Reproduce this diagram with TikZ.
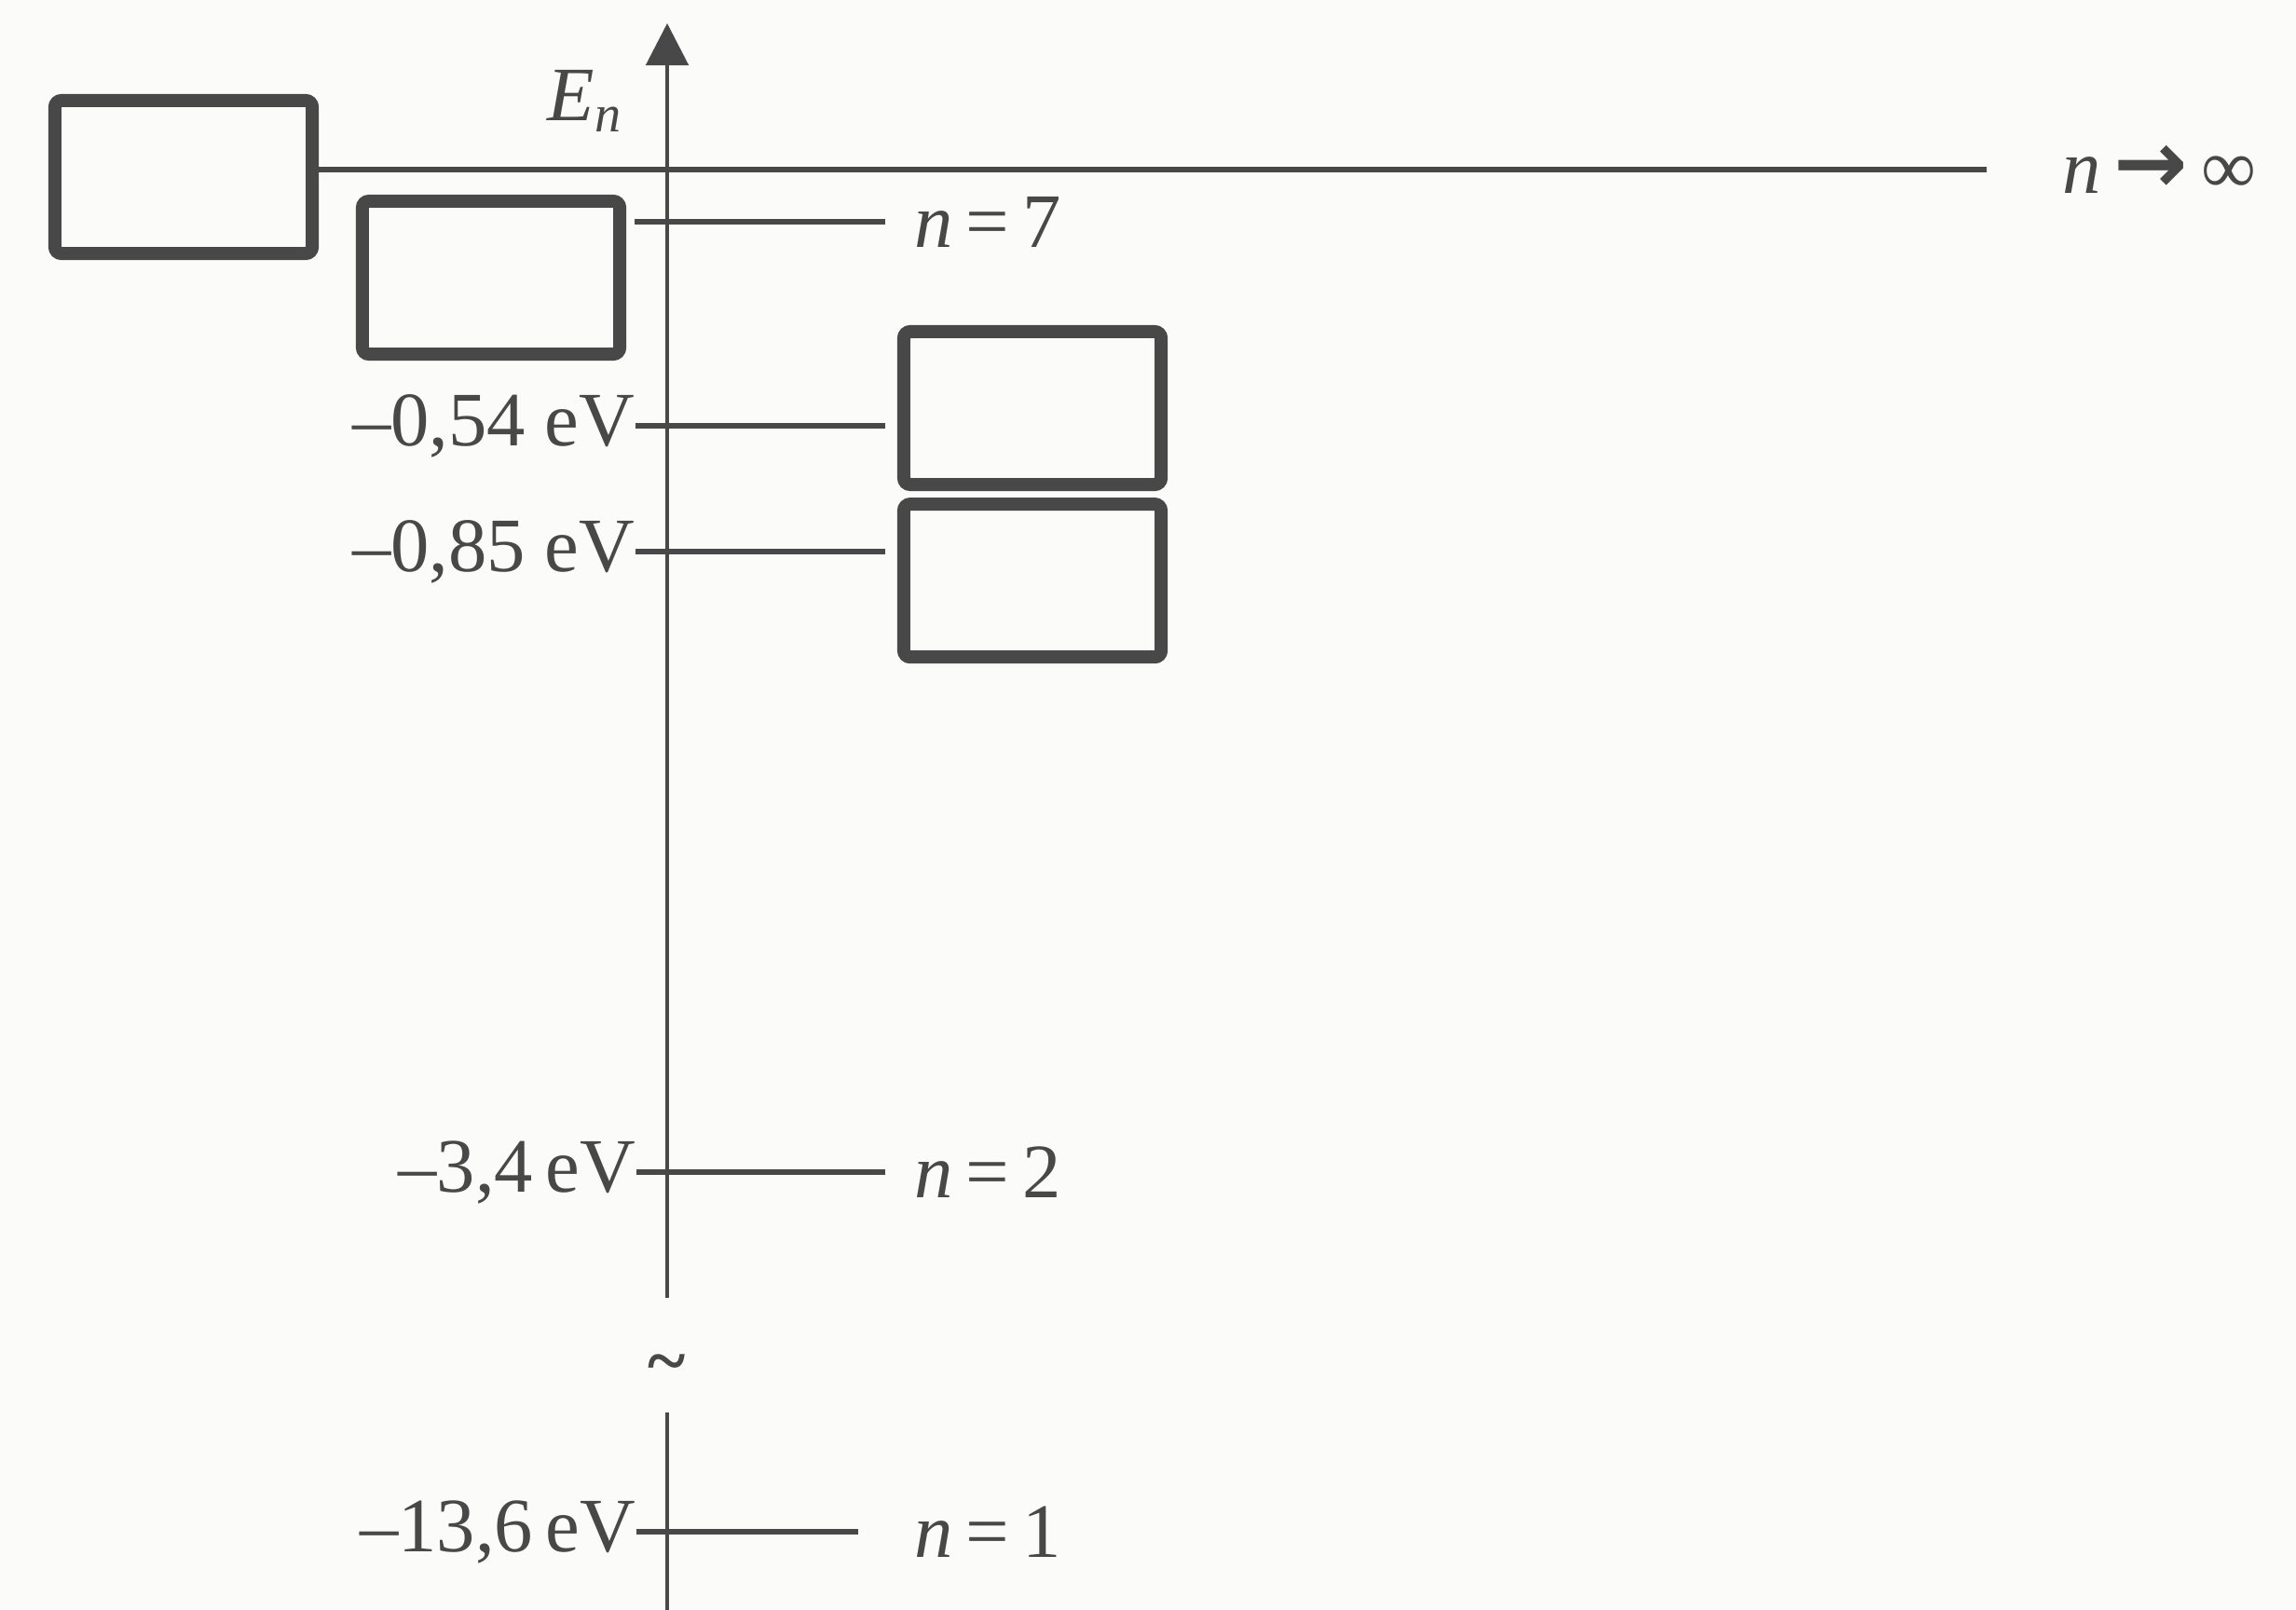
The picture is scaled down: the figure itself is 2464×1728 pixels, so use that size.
\documentclass[tikz,border=0pt]{standalone}
\usepackage{fontspec}
\setmainfont{Liberation Serif}
\newfontfamily\arrowfont{DejaVu Sans}
\usetikzlibrary{arrows.meta,positioning}
\definecolor{ink}{HTML}{484848}
\definecolor{paper}{HTML}{FBFBF9}

\begin{document}
\begin{tikzpicture}[x=0.01cm, y=-0.01cm, color=ink,
	font=\fontsize{23.5}{28}\selectfont,
	slot/.style={draw=ink, line width=4pt, rounded corners=2pt,
		minimum width=2.76cm, minimum height=1.64cm, inner sep=0pt},
	level/.style={line width=1.6pt},
	axis/.style={line width=1.4pt},
	lbl/.style={inner sep=0pt, text=ink}]
	\fill[paper] (0,0) rectangle (2464,1728);
	\useasboundingbox (0,0) rectangle (2464,1728);

	\node[slot] (b1) at (197,190) {};
	\node[slot] (b2) at (527,298) {};
	\node[slot] (b3) at (1108,438) {};
	\node[slot, below=0.07cm of b3] (b4) {};

	\coordinate (ax0) at (716,1728);
	\coordinate (axb) at (716,1516);
	\coordinate (axt) at (716,1393);
	\coordinate (top) at (716,25);
	\draw[axis] (ax0) -- (axb);
	\draw[axis, -{Triangle[length=0.45cm, width=0.45cm]}] (axt) -- (top);
	\node[lbl] (brk) at (716,1470) {\fontsize{22}{24}\selectfont\bfseries\textasciitilde};
	\node[lbl, anchor=base west] (en) at (587,130)
		{\textit{E}\raisebox{-0.3ex}{\fontsize{16}{18}\selectfont\textit{n}}};

	\coordinate (i0) at (330,182);
	\coordinate (inf) at (2132,182);
	\draw[level] (i0) -- (inf);
	\node[lbl, right=0.81cm of inf] (linf)
		{\textit{n}\,{\arrowfont\fontsize{27}{28}\selectfont\bfseries →}\,∞};

	\coordinate (l7a) at (681,238);
	\coordinate (l7b) at (950,238);
	\coordinate (l54a) at (682,457);
	\coordinate (l54b) at (950,457);
	\coordinate (l85a) at (682,592);
	\coordinate (l85b) at (950,592);
	\coordinate (l2a) at (683,1258);
	\coordinate (l2b) at (950,1258);
	\coordinate (l1a) at (683,1644);
	\coordinate (l1b) at (921,1644);

	\draw[level] (l7a) -- (l7b);
	\draw[level] (l54a) -- (l54b);
	\draw[level] (l85a) -- (l85b);
	\draw[level] (l2a) -- (l2b);
	\draw[level] (l1a) -- (l1b);

	\node[lbl, right=0.31cm of l7b] (n7) {\textit{n}\,=\,7};
	\node[lbl, right=0.31cm of l2b] (n2) {\textit{n}\,=\,2};
	\node[lbl, right=0.60cm of l1b] (n1) {\textit{n}\,=\,1};

	\node[lbl, left=0pt of l54a] (e54) {–0,54 eV};
	\node[lbl, left=0pt of l85a] (e85) {–0,85 eV};
	\node[lbl, left=0pt of l2a] (e2) {–3,4\,eV};
	\node[lbl, left=0pt of l1a] (e1) {–13,6\,eV};
\end{tikzpicture}
\end{document}
